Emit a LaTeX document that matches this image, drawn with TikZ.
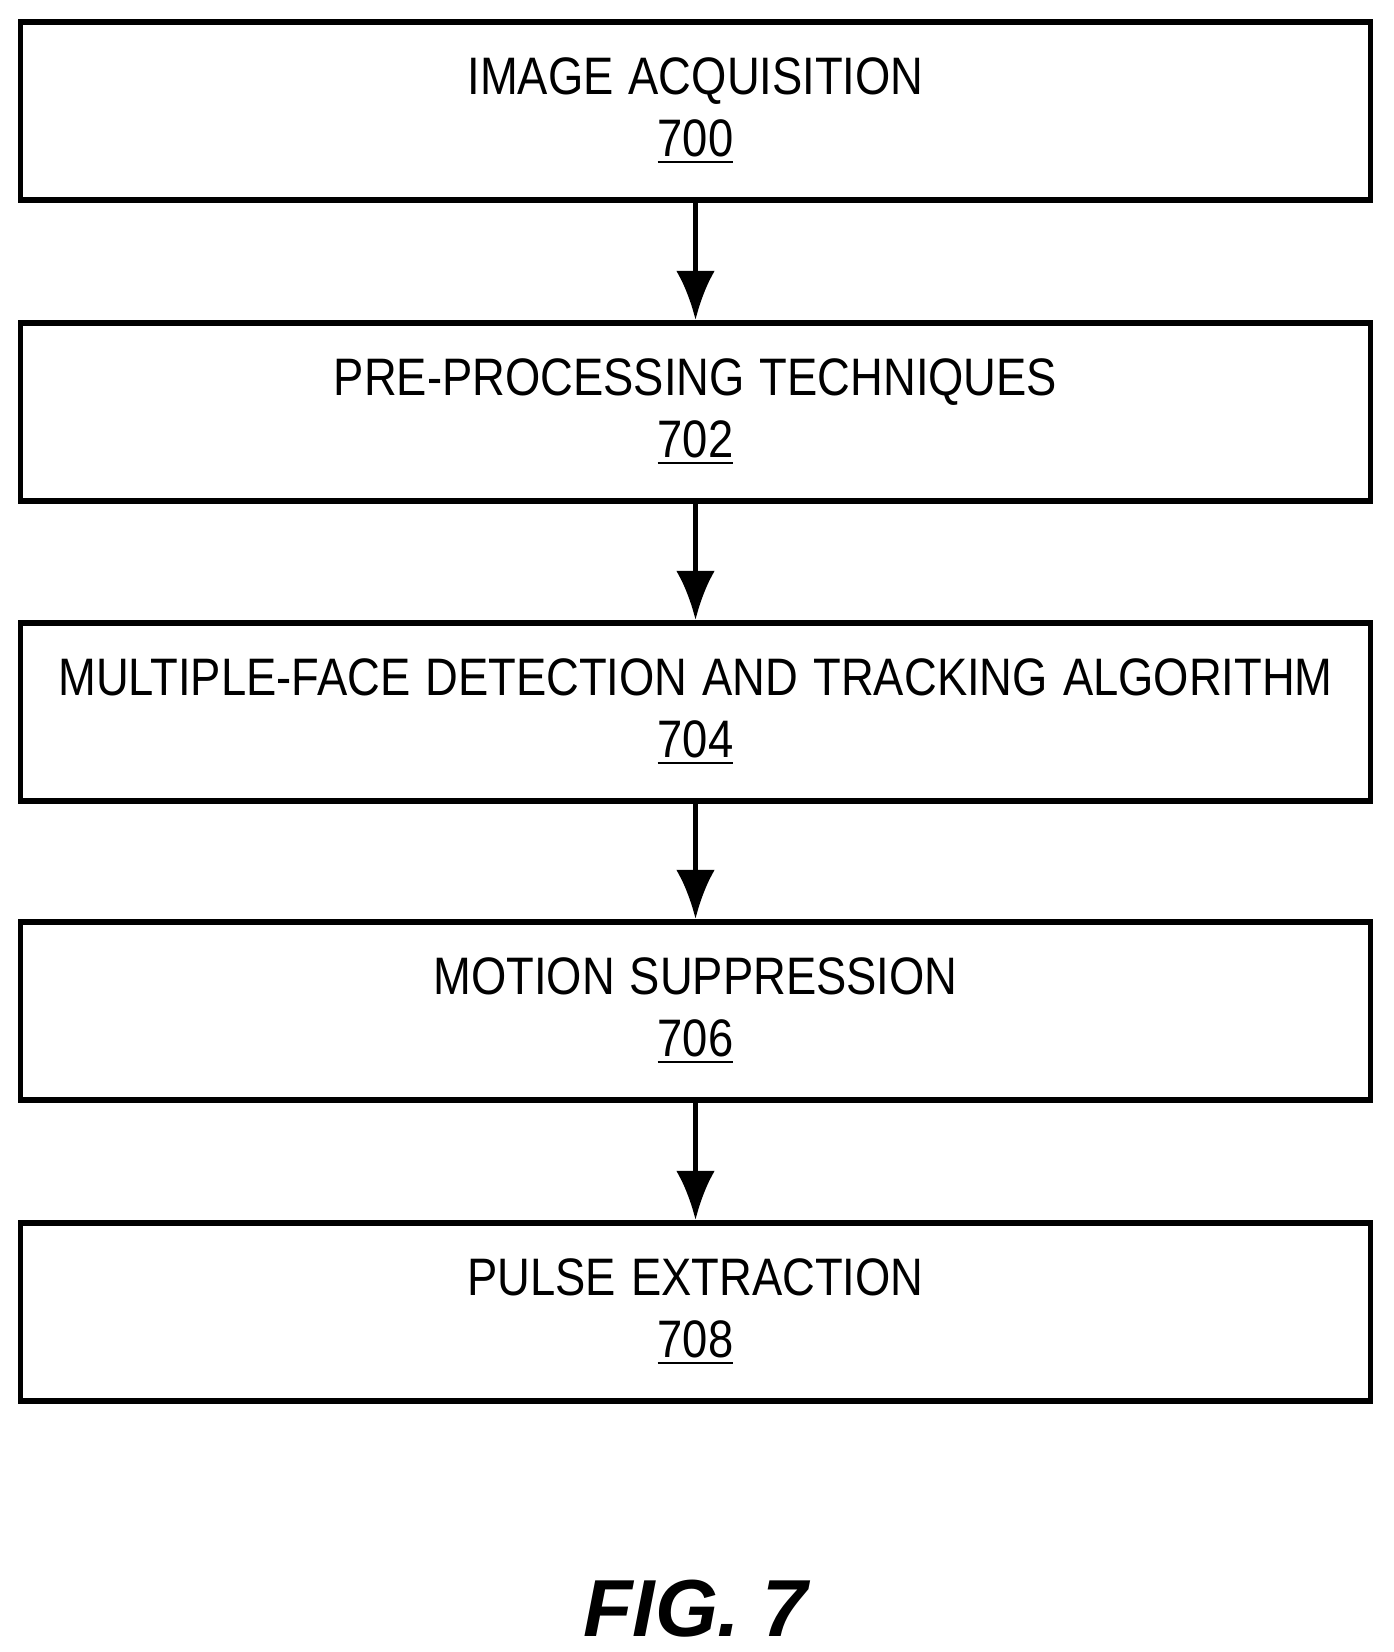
\documentclass[tikz,border=0pt]{standalone}
\usepackage{fontspec}
\setmainfont{Liberation Sans}
\usetikzlibrary{arrows.meta}
\begin{document}
\begin{tikzpicture}[x=0.01cm,y=-0.01cm,->,>={Latex[length=14pt,width=11pt]},line width=1.6pt]
        \tikzstyle{stage}=[
            draw,rectangle,minimum width=13.49cm,minimum height=1.78cm,inner sep=0pt,
            text width=13.2cm,align=center,font=\fontsize{15}{17.5}\selectfont,
        ]
        \useasboundingbox (0,0) rectangle (1393,1652);

        % Draw the stages
        \node[stage] (S-0) at (695.5,111) {\scalebox{0.86}[1]{IMAGE ACQUISITION}\\\underline{\scalebox{0.86}[1]{700}}};
        \node[stage] (S-1) at (695.5,412) {\scalebox{0.86}[1]{PRE-PROCESSING TECHNIQUES}\\\underline{\scalebox{0.86}[1]{702}}};
        \node[stage] (S-2) at (695.5,712) {\scalebox{0.86}[1]{MULTIPLE-FACE DETECTION AND TRACKING ALGORITHM}\\\underline{\scalebox{0.86}[1]{704}}};
        \node[stage] (S-3) at (695.5,1011) {\scalebox{0.86}[1]{MOTION SUPPRESSION}\\\underline{\scalebox{0.86}[1]{706}}};
        \node[stage] (S-4) at (695.5,1312) {\scalebox{0.86}[1]{PULSE EXTRACTION}\\\underline{\scalebox{0.86}[1]{708}}};

        % Connect each stage with the next one
        \foreach \source/\dest in {0/1,1/2,2/3,3/4}
            \draw (S-\source) -- (S-\dest);

        % Figure caption
        \node[font=\fontsize{23}{28}\selectfont\bfseries\itshape] (fig) at (695.5,1609) {FIG. 7};
\end{tikzpicture}
\end{document}
